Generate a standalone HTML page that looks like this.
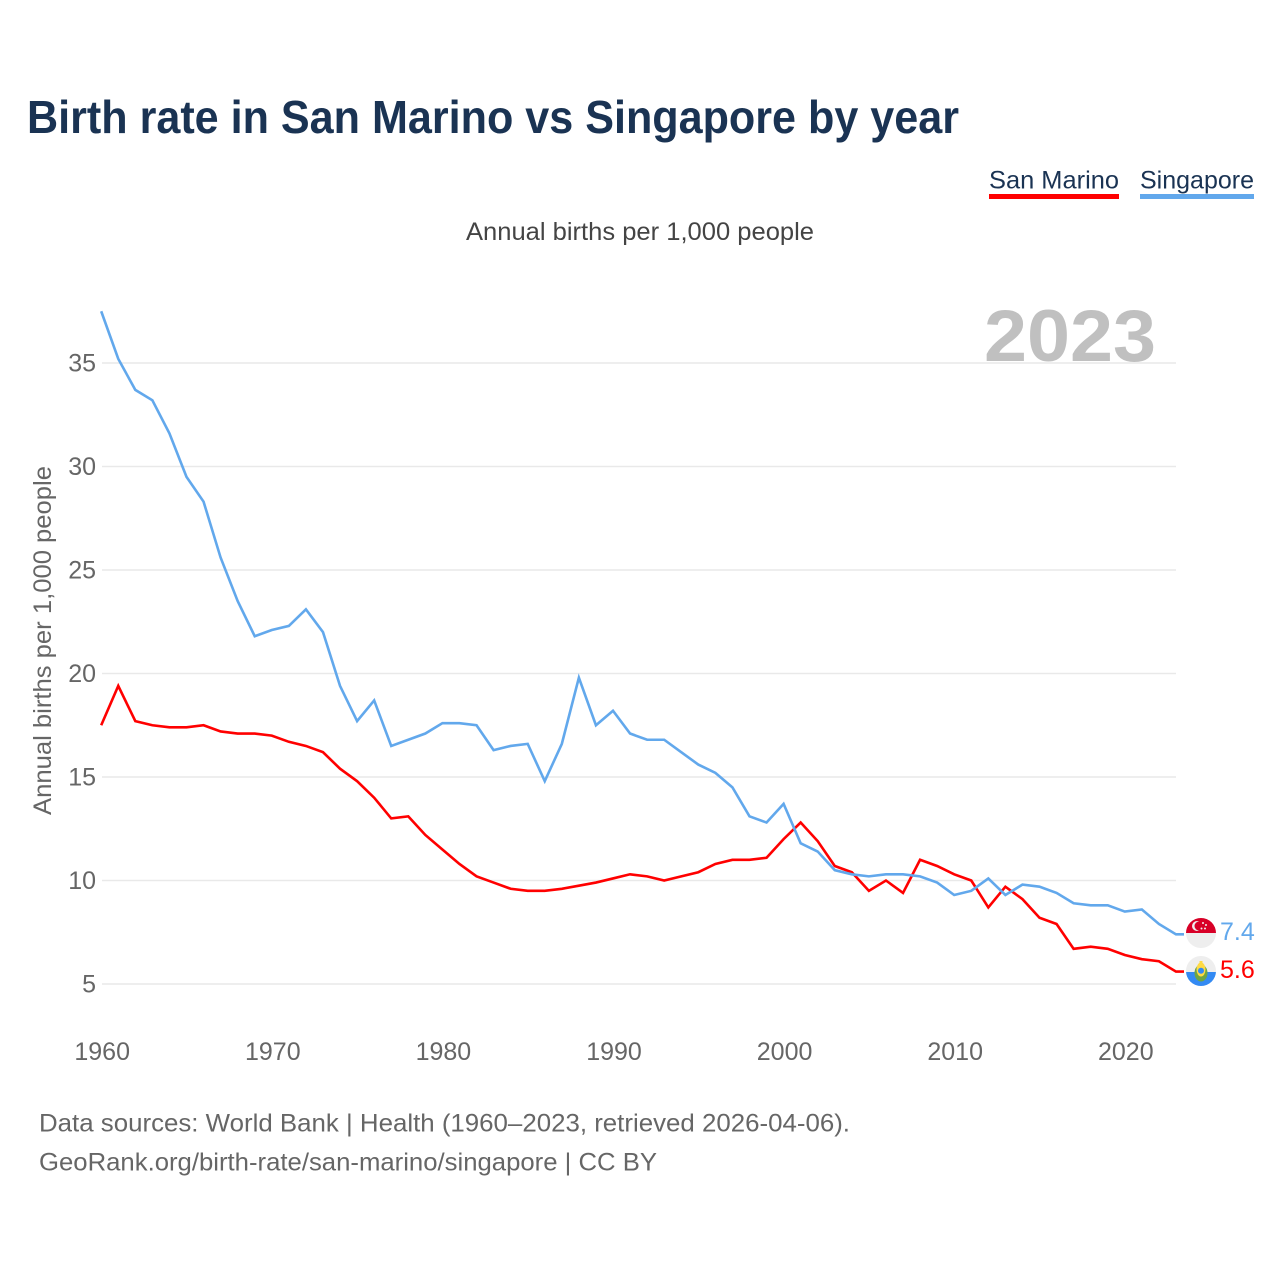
<!DOCTYPE html>
<html lang="en">
<head>
<meta charset="utf-8">
<title>Birth rate in San Marino vs Singapore by year</title>
<style>
html,body{margin:0;padding:0;background:#fff;width:1280px;height:1280px;overflow:hidden}
svg{display:block}
text{font-family:"Liberation Sans",sans-serif}
</style>
</head>
<body>
<svg id="chart" width="1280" height="1280" viewBox="0 0 1280 1280" xmlns="http://www.w3.org/2000/svg">
  <defs>
    <clipPath id="flag-clip-sg"><circle cx="1201" cy="933" r="15"/></clipPath>
    <clipPath id="flag-clip-sm"><circle cx="1201" cy="971" r="15"/></clipPath>
  </defs>
  <text x="27" y="133" font-size="46" font-weight="700" fill="#1a3353" textLength="932" lengthAdjust="spacingAndGlyphs">Birth rate in San Marino vs Singapore by year</text>

  <g>
    <text x="989" y="188.5" font-size="25" fill="#1a3353" textLength="130" lengthAdjust="spacingAndGlyphs">San Marino</text>
    <rect x="989" y="194" width="130" height="5" fill="#ff0000"/>
  </g>
  <g>
    <text x="1140" y="188.5" font-size="25" fill="#1a3353" textLength="114" lengthAdjust="spacingAndGlyphs">Singapore</text>
    <rect x="1140" y="194" width="114" height="5" fill="#62a8ec"/>
  </g>

  <text x="466" y="240" font-size="25" fill="#444444" textLength="348" lengthAdjust="spacingAndGlyphs">Annual births per 1,000 people</text>
  <text x="984" y="361" font-size="73" font-weight="700" fill="#c0c0c0" textLength="172" lengthAdjust="spacingAndGlyphs">2023</text>

  <g id="grid"></g>
  <g id="y-ticks"></g>
  <g id="x-ticks"></g>
  <text transform="translate(51,815) rotate(-90)" x="0" y="0" font-size="25" fill="#666666" textLength="349" lengthAdjust="spacingAndGlyphs">Annual births per 1,000 people</text>

  <g id="series"></g>

  <g clip-path="url(#flag-clip-sg)">
    <rect x="1186" y="918" width="30" height="30" fill="#eeeeee"/>
    <rect x="1186" y="918" width="30" height="15" fill="#d80027"/>
    <circle cx="1197" cy="926" r="5" fill="#eeeeee"/>
    <circle cx="1199" cy="926" r="4.5" fill="#d80027"/>
    <circle cx="1203" cy="923" r="1" fill="#eeeeee"/>
    <circle cx="1206" cy="925" r="1" fill="#eeeeee"/>
    <circle cx="1205" cy="928.5" r="1" fill="#eeeeee"/>
    <circle cx="1201.5" cy="928.5" r="1" fill="#eeeeee"/>
  </g>
  <g clip-path="url(#flag-clip-sm)">
    <rect x="1186" y="956" width="30" height="30" fill="#eeeeee"/>
    <rect x="1186" y="972" width="30" height="14" fill="#338af3"/>
    <ellipse cx="1201" cy="973" rx="6.5" ry="8.5" fill="#6da544"/>
    <ellipse cx="1201" cy="969.5" rx="4.5" ry="7" fill="#ffda44"/>
    <circle cx="1201" cy="970.7" r="3" fill="#338af3"/>
    <rect x="1199.5" y="961" width="3" height="4" fill="#ffda44"/>
  </g>
  <g id="end-labels"></g>

  <text x="39" y="1131.5" font-size="25" fill="#666666" textLength="811" lengthAdjust="spacingAndGlyphs">Data sources: World Bank | Health (1960–2023, retrieved 2026-04-06).</text>
  <text x="39" y="1170.5" font-size="25" fill="#666666" textLength="618" lengthAdjust="spacingAndGlyphs">GeoRank.org/birth-rate/san-marino/singapore | CC BY</text>
</svg>
<script>
const startYear = 1960;
const sanMarino = [17.5,19.4,17.7,17.5,17.4,17.4,17.5,17.2,17.1,17.1,17.0,16.7,16.5,16.2,15.4,14.8,14.0,13.0,13.1,12.2,11.5,10.8,10.2,9.9,9.6,9.5,9.5,9.6,9.75,9.9,10.1,10.3,10.2,10.0,10.2,10.4,10.8,11.0,11.0,11.1,12.0,12.8,11.9,10.7,10.4,9.5,10.0,9.4,11.0,10.7,10.3,10.0,8.7,9.7,9.1,8.2,7.9,6.7,6.8,6.7,6.4,6.2,6.1,5.6];
const singapore = [37.5,35.2,33.7,33.2,31.6,29.5,28.3,25.6,23.5,21.8,22.1,22.3,23.1,22.0,19.4,17.7,18.7,16.5,16.8,17.1,17.6,17.6,17.5,16.3,16.5,16.6,14.8,16.6,19.8,17.5,18.2,17.1,16.8,16.8,16.2,15.6,15.2,14.5,13.1,12.8,13.7,11.8,11.4,10.5,10.3,10.2,10.3,10.3,10.2,9.9,9.3,9.5,10.1,9.3,9.8,9.7,9.4,8.9,8.8,8.8,8.5,8.6,7.9,7.4];
const yTicks = [5,10,15,20,25,30,35];
const xTicks = [1960,1970,1980,1990,2000,2010,2020];

const SVGNS = 'http://www.w3.org/2000/svg';
const xScale = year => 101.2 + (year - 1960) * 17.06;
const yScale = value => 984 - (value - 5) * (984 - 363) / 30;
const plotLeft = 102;
const plotRight = 1176;

const grid = document.getElementById('grid');
const yGroup = document.getElementById('y-ticks');
yTicks.forEach(tick => {
  const line = document.createElementNS(SVGNS, 'line');
  line.setAttribute('x1', plotLeft);
  line.setAttribute('x2', plotRight);
  line.setAttribute('y1', yScale(tick));
  line.setAttribute('y2', yScale(tick));
  line.setAttribute('stroke', '#e9e9e9');
  line.setAttribute('stroke-width', '1.5');
  
  
  grid.appendChild(line);

  const label = document.createElementNS(SVGNS, 'text');
  label.setAttribute('x', 96);
  label.setAttribute('y', yScale(tick) + 8.5);
  label.setAttribute('text-anchor', 'end');
  label.setAttribute('font-size', '25');
  label.setAttribute('fill', '#666666');
  
  
  label.textContent = tick;
  yGroup.appendChild(label);
});

const xGroup = document.getElementById('x-ticks');
xTicks.forEach(tick => {
  const label = document.createElementNS(SVGNS, 'text');
  label.setAttribute('x', xScale(tick) + 1);
  label.setAttribute('y', 1060);
  label.setAttribute('text-anchor', 'middle');
  label.setAttribute('font-size', '25');
  label.setAttribute('fill', '#666666');
  
  
  label.textContent = tick;
  xGroup.appendChild(label);
});

function linePoints(values) {
  const pts = values.map((v, i) => xScale(startYear + i).toFixed(2) + ',' + yScale(v).toFixed(2));
  const last = values[values.length - 1];
  pts.push('1184,' + yScale(last).toFixed(2));
  return pts.join(' ');
}

const seriesGroup = document.getElementById('series');
const sanMarinoLine = document.createElementNS(SVGNS, 'polyline');
sanMarinoLine.setAttribute('points', linePoints(sanMarino));
sanMarinoLine.setAttribute('fill', 'none');
sanMarinoLine.setAttribute('stroke', '#ff0000');
sanMarinoLine.setAttribute('stroke-width', '2.6');


seriesGroup.appendChild(sanMarinoLine);

const singaporeLine = document.createElementNS(SVGNS, 'polyline');
singaporeLine.setAttribute('points', linePoints(singapore));
singaporeLine.setAttribute('fill', 'none');
singaporeLine.setAttribute('stroke', '#62a8ec');
singaporeLine.setAttribute('stroke-width', '2.6');


seriesGroup.appendChild(singaporeLine);

const endGroup = document.getElementById('end-labels');
const sgValue = document.createElementNS(SVGNS, 'text');
sgValue.setAttribute('x', 1220);
sgValue.setAttribute('y', 940);
sgValue.setAttribute('font-size', '25');
sgValue.setAttribute('fill', '#62a8ec');


sgValue.textContent = singapore[singapore.length - 1].toFixed(1);
endGroup.appendChild(sgValue);

const smValue = document.createElementNS(SVGNS, 'text');
smValue.setAttribute('x', 1220);
smValue.setAttribute('y', 978);
smValue.setAttribute('font-size', '25');
smValue.setAttribute('fill', '#ff0000');


smValue.textContent = sanMarino[sanMarino.length - 1].toFixed(1);
endGroup.appendChild(smValue);
</script>
</body>
</html>
